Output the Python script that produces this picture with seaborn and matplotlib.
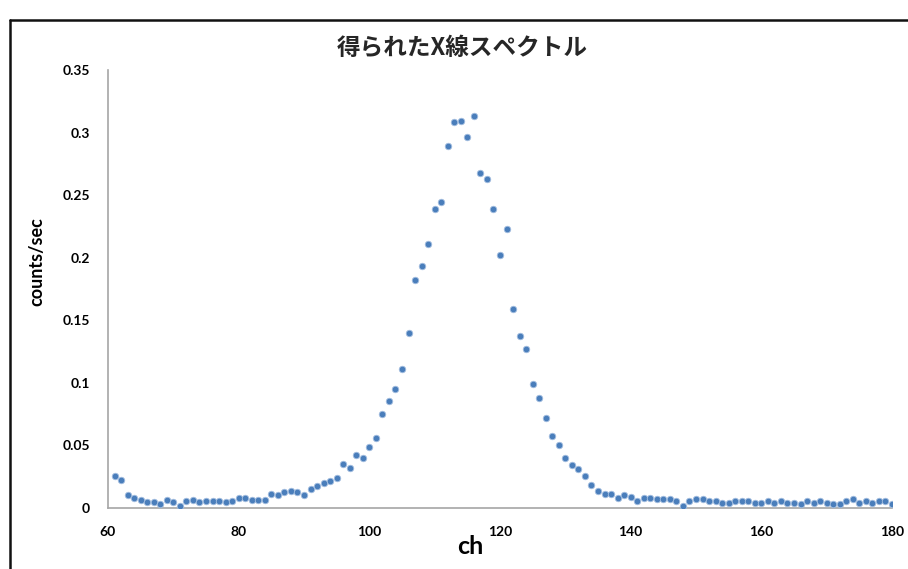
import numpy as np
import pandas as pd
import seaborn as sns
import matplotlib.pyplot as plt
from matplotlib.lines import Line2D

# Measured spectrum: channel number and count rate (counts/sec)
channels = list(range(61, 181))
counts_per_sec = [
    0.0258, 0.0224, 0.0104, 0.0077, 0.0066, 0.0045, 0.0045, 0.0035, 0.0066, 0.0045,   # 61-70
    0.0019, 0.0056, 0.0066, 0.0045, 0.0056, 0.0056, 0.0056, 0.0045, 0.0056, 0.0080,   # 71-80
    0.0080, 0.0066, 0.0066, 0.0066, 0.0115, 0.0104, 0.0128, 0.0139, 0.0128, 0.0101,   # 81-90
    0.0152, 0.0173, 0.0197, 0.0213, 0.0237, 0.0354, 0.0317, 0.0426, 0.0402, 0.0488,   # 91-100
    0.0560, 0.0751, 0.0858, 0.0954, 0.1110, 0.1399, 0.1820, 0.1930, 0.2110, 0.2388,   # 101-110
    0.2446, 0.2891, 0.3083, 0.3094, 0.2963, 0.3134, 0.2675, 0.2627, 0.2388, 0.2025,   # 111-120
    0.2230, 0.1590, 0.1375, 0.1268, 0.0991, 0.0882, 0.0717, 0.0573, 0.0501, 0.0402,   # 121-130
    0.0344, 0.0309, 0.0258, 0.0186, 0.0139, 0.0115, 0.0115, 0.0080, 0.0104, 0.0090,   # 131-140
    0.0056, 0.0082, 0.0082, 0.0072, 0.0072, 0.0072, 0.0058, 0.0019, 0.0058, 0.0072,   # 141-150
    0.0072, 0.0058, 0.0058, 0.0043, 0.0043, 0.0058, 0.0058, 0.0058, 0.0043, 0.0043,   # 151-160
    0.0058, 0.0043, 0.0058, 0.0043, 0.0043, 0.0032, 0.0058, 0.0043, 0.0058, 0.0043,   # 161-170
    0.0032, 0.0032, 0.0058, 0.0072, 0.0043, 0.0058, 0.0043, 0.0058, 0.0058, 0.0032,   # 171-180
]

x_ticks = [60, 80, 100, 120, 140, 160, 180]
y_ticks = [0, 0.05, 0.1, 0.15, 0.2, 0.25, 0.3, 0.35]
y_tick_labels = ['0', '0.05', '0.1', '0.15', '0.2', '0.25', '0.3', '0.35']

title = '得られたX線スペクトル'

df = pd.DataFrame({'ch': channels, 'cps': counts_per_sec})

sns.set_theme(style='white')
plt.rcParams['font.family'] = ['Lato', 'Noto Sans CJK JP', 'DejaVu Sans']

fig = plt.figure(figsize=(9.08, 5.69), dpi=100)
W, H = 908, 569
ax = fig.add_axes([108 / W, 61 / H, 784 / W, 438 / H])

sns.scatterplot(data=df, x='ch', y='cps', ax=ax, color='#4A7EBB', s=22,
                edgecolor='#A3BEE0', linewidth=0.6, zorder=3, legend=False)

ax.set_xlim(60, 180)
ax.set_ylim(0, 0.35)
ax.set_xticks(x_ticks)
ax.set_xticklabels([str(t) for t in x_ticks])
ax.set_yticks(y_ticks)
ax.set_yticklabels(y_tick_labels)
for lbl in ax.get_xticklabels() + ax.get_yticklabels():
    lbl.set_fontweight('bold')
    lbl.set_color('black')

ax.tick_params(axis='both', direction='out', length=4, width=1,
               color='#A6A6A6', labelsize=10, pad=9)
ax.tick_params(axis='x', pad=9)
sns.despine(ax=ax)
for side in ['left', 'bottom']:
    ax.spines[side].set_color('#A6A6A6')
    ax.spines[side].set_linewidth(1.2)
ax.grid(False)

# axis labels (Excel places them a bit off-centre)
ax.set_xlabel('ch', fontsize=18, fontweight='bold', color='black')
ax.xaxis.label.set_verticalalignment('center')
ax.xaxis.set_label_coords((470 - 108) / 784, -(547 - 508) / 438)
ax.set_ylabel('counts/sec', fontsize=13, fontweight='bold', color='black')
ax.yaxis.label.set_verticalalignment('center')
ax.yaxis.set_label_coords((37 - 108) / 784, (508 - 262) / 438)

fig.text(462 / W, 1 - 48 / H, title, ha='center', va='center', fontsize=17,
         fontweight='bold', family=['Noto Sans CJK JP', 'DejaVu Sans'])

# black frame of the pasted chart (top and left edges only are visible)
top_y = 1 - 20 / H
left_x = 10 / W
fig.add_artist(Line2D([left_x, 1.0], [top_y, top_y], transform=fig.transFigure,
                      color='#111111', linewidth=1.8))
fig.add_artist(Line2D([left_x, left_x], [0.0, top_y], transform=fig.transFigure,
                      color='#111111', linewidth=1.8))

fig.savefig('out.png', dpi=100)
